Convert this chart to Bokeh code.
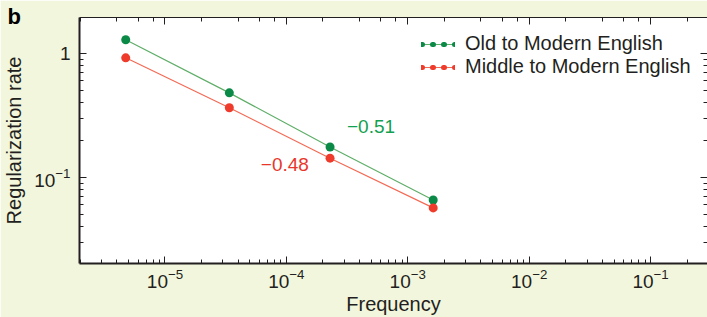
from bokeh.plotting import figure
from bokeh.models import (LogAxis, LogTicker, FixedTicker, Legend, LegendItem, Label,
                          Range1d, ColumnDataSource, Title)
from bokeh.embed import file_html
from bokeh.resources import INLINE

# ---- data ----
frequency = [4.75e-6, 3.39e-5, 2.29e-4, 1.62e-3]
old_rate = [1.29, 0.481, 0.176, 0.0658]
middle_rate = [0.922, 0.365, 0.143, 0.0568]
series_names = ["Old to Modern English", "Middle to Modern English"]
slope_labels = ["\u22120.51", "\u22120.48"]
slope_label_x = [4.98e-4, 9.72e-5]
slope_label_y = [0.257, 0.128]
y_major_ticks = [0.1, 1]
y_minor_ticks = [m * d for d in (0.01, 0.1, 1) for m in range(2, 10)]

CREAM = "#f2f6dc"
GREEN_DOT = "#0b8a47"
GREEN_LINE = "#5fae68"
GREEN_TEXT = "#13a050"
RED_DOT = "#ef3b2c"
RED_LINE = "#f36a55"
RED_TEXT = "#e8372a"
INK = "#231f20"
FONT = "Liberation Sans"
FS = "19px"
FS_LAB = "20px"

p = figure(width=707, height=317, x_axis_type="log", y_axis_type="log",
           x_range=Range1d(10 ** -5.704, 10 ** -0.531),
           y_range=Range1d(10 ** -1.694, 10 ** 0.290),
           output_backend="svg", toolbar_location=None,
           min_border_left=78, min_border_right=0, min_border_top=17,
           min_border_bottom=52)
p.background_fill_color = "white"
p.border_fill_color = CREAM
p.outline_line_color = None
p.grid.visible = False

# panel letter as the figure title, pulled into the top-left corner
try:
    title = Title(text="b", align="left", vertical_align="bottom", offset=-72, standoff=-22)
except Exception:
    title = Title(text="b", align="left", vertical_align="bottom", offset=-72, standoff=0)
title.text_font = FONT
title.text_font_size = "22px"
title.text_font_style = "bold"
title.text_color = "black"
p.title = title

y_ticker = FixedTicker(ticks=y_major_ticks, minor_ticks=y_minor_ticks)
p.yaxis.ticker = y_ticker

for ax in (p.xaxis[0], p.yaxis[0]):
    ax.axis_line_width = 2
    ax.axis_line_color = INK
    ax.major_tick_line_color = INK
    ax.minor_tick_line_color = INK
    ax.major_tick_in = 7
    ax.major_tick_out = 0
    ax.minor_tick_in = 4
    ax.minor_tick_out = 0
    ax.major_label_text_font = FONT
    ax.major_label_text_font_size = FS
    ax.major_label_text_color = INK
    ax.axis_label_text_font = FONT
    ax.axis_label_text_font_size = FS_LAB
    ax.axis_label_text_font_style = "normal"
    ax.axis_label_text_color = INK

p.xaxis.axis_label = "Frequency"
p.yaxis.axis_label = "Regularization rate"
p.xaxis.major_label_standoff = 5
p.xaxis.axis_label_standoff = 2
p.yaxis.major_label_standoff = 9
p.yaxis.axis_label_standoff = 6
p.yaxis.major_label_overrides = {1: "1"}

for side in ("above", "right"):
    tk = LogTicker() if side == "above" else FixedTicker(ticks=y_major_ticks, minor_ticks=y_minor_ticks)
    ax = LogAxis(ticker=tk)
    ax.axis_line_width = 1
    ax.axis_line_color = INK if side == "above" else None
    ax.major_tick_line_color = INK
    ax.minor_tick_line_color = INK
    ax.major_tick_in = 7
    ax.major_tick_out = 0
    ax.minor_tick_in = 4
    ax.minor_tick_out = 0
    ax.major_label_text_font_size = "1px"
    ax.major_label_text_alpha = 0
    ax.major_label_standoff = 0
    p.add_layout(ax, side)

# ---- series ----
src_old = ColumnDataSource(dict(x=frequency, y=old_rate))
src_mid = ColumnDataSource(dict(x=frequency, y=middle_rate))

l_old = p.line("x", "y", source=src_old, line_color=GREEN_LINE, line_width=1.2)
l_mid = p.line("x", "y", source=src_mid, line_color=RED_LINE, line_width=1.2)
p.scatter("x", "y", source=src_old, size=9, fill_color=GREEN_DOT, line_color=None)
p.scatter("x", "y", source=src_mid, size=9, fill_color=RED_DOT, line_color=None)

# legend glyphs: thin line with four dots (renderers that draw nothing in the plot)
nan = float("nan")
dummy_g = ColumnDataSource(dict(x=[nan], y=[nan]))
dummy_r = ColumnDataSource(dict(x=[nan], y=[nan]))
d_old = p.line("x", "y", source=dummy_g, line_color=GREEN_DOT, line_width=5,
               line_cap="round", line_dash="1 10")
d_mid = p.line("x", "y", source=dummy_r, line_color=RED_DOT, line_width=5,
               line_cap="round", line_dash="1 10")

legend = Legend(items=[LegendItem(label=series_names[0], renderers=[l_old, d_old]),
                       LegendItem(label=series_names[1], renderers=[l_mid, d_mid])],
                location=(342, 185), border_line_color=None, background_fill_alpha=0,
                padding=0, margin=0, spacing=0, glyph_width=34, glyph_height=22,
                label_height=22, label_standoff=10, label_text_font=FONT,
                label_text_font_size=FS_LAB, label_text_color=INK)
p.add_layout(legend)

for txt, lx, ly, col in zip(slope_labels, slope_label_x, slope_label_y, [GREEN_TEXT, RED_TEXT]):
    p.add_layout(Label(x=lx, y=ly, text=txt, text_color=col, text_font=FONT,
                       text_font_size=FS, text_align="center", text_baseline="middle"))

open("out.html", "w").write(file_html(p, INLINE))
